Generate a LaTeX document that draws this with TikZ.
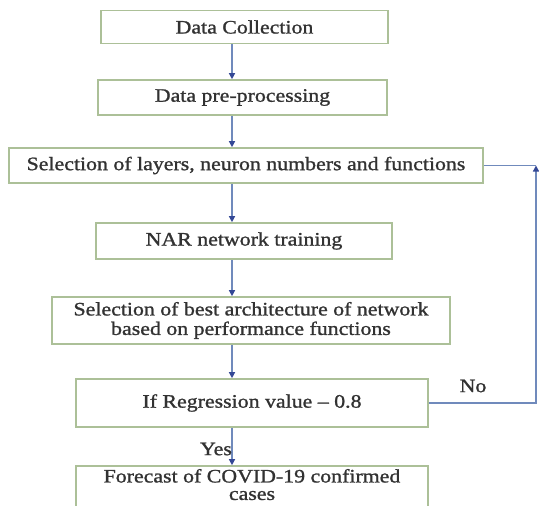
\documentclass[tikz,border=0pt]{standalone}
\usepackage{fontspec}
\setmainfont{Liberation Serif}[FakeStretch=1.15, FakeBold=1.2]
\usetikzlibrary{arrows.meta, positioning}
\definecolor{boxline}{RGB}{172,192,152}
\definecolor{arrline}{RGB}{112,138,188}
\definecolor{arrhead}{RGB}{52,72,150}
\definecolor{txt}{RGB}{50,50,50}

\begin{document}
\begin{tikzpicture}[x=1pt, y=-1pt,
  stepbox/.style={draw=boxline, line width=1.6pt, text=txt, align=center,
    inner sep=0pt, font=\fontsize{19}{19.5}\selectfont},
  flow/.style={draw=arrline, line width=1.3pt,
    -{Triangle[length=6pt, width=6pt, color=arrhead]}},
  link/.style={draw=arrline, line width=1.3pt},
  lbl/.style={text=txt, font=\fontsize{19}{20}\selectfont}]
\useasboundingbox (0,0) rectangle (539,506);

% Steps
\node[stepbox, minimum width=287pt, minimum height=33pt] (dc) at (244.5,27) {Data Collection};
\node[stepbox, minimum width=289pt, minimum height=35pt] (pp) at (242.5,97.5) {Data pre-processing};
\node[stepbox, minimum width=474pt, minimum height=35pt] (sel) at (246,165.5) {Selection of layers, neuron numbers and functions};
\node[stepbox, minimum width=296pt, minimum height=36pt] (nar) at (244,241) {NAR network training};
\node[stepbox, minimum width=398pt, minimum height=47pt] (best) at (251,320.5) {Selection of best architecture of network\\based on performance functions};
\node[stepbox, minimum width=352pt, minimum height=48pt] (dec) at (252,403) {If Regression value – 0.8};
\node[stepbox, minimum width=352pt, minimum height=46pt, text depth=9pt] (fc) at (252,489) {Forecast of COVID-19 confirmed\\[-2pt]cases};

% Main flow
\coordinate (ax) at (232,0);
\draw[flow] (dc.south -| ax) -- (pp.north -| ax);
\draw[flow] (pp.south -| ax) -- (sel.north -| ax);
\draw[flow] (sel.south -| ax) -- (nar.north -| ax);
\draw[flow] (nar.south -| ax) -- (best.north -| ax);
\draw[flow] (best.south -| ax) -- (dec.north -| ax);
\draw[flow] (dec.south -| ax) -- (fc.north -| ax);
\node[lbl] (yes) at (216,449) {Yes};

% Loop back
\coordinate (fb) at (536,165.5);
\draw[flow] (dec.east) -| (fb);
\draw[link] (fb) -- (sel.east);
\node[lbl] (no) at (473,386) {No};
\end{tikzpicture}
\end{document}
